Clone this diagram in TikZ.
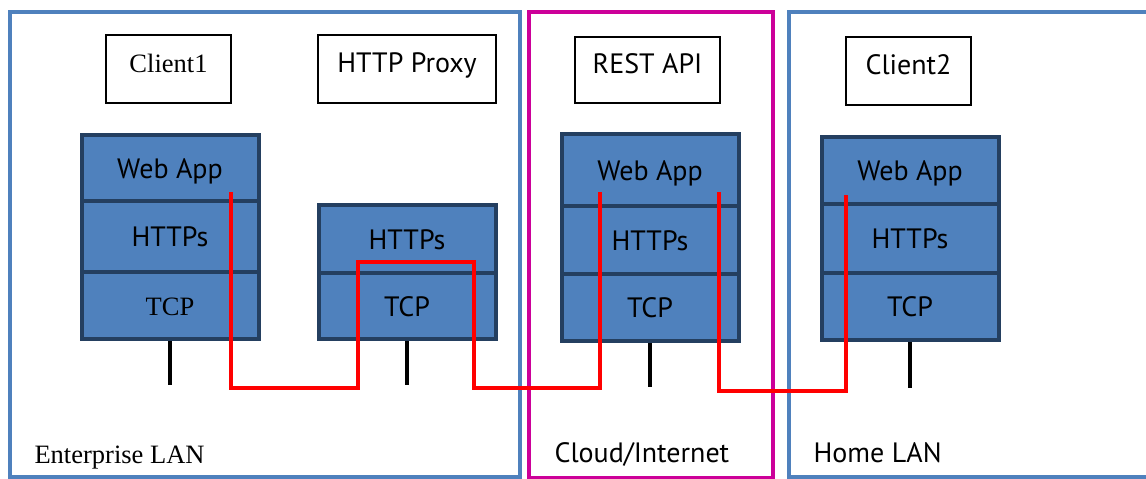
\documentclass[tikz,border=0pt]{standalone}
\usepackage{fontspec}
\setmainfont{Liberation Serif}
\setsansfont{PT Sans}
\definecolor{zoneblue}{HTML}{4F81BD}
\definecolor{zonepink}{HTML}{CC0099}
\definecolor{layerfill}{HTML}{4F81BD}
\definecolor{layeredge}{HTML}{243F60}
\tikzset{
  big/.style={font=\fontsize{26.5}{30}\selectfont},
  sans/.style={font=\fontsize{28}{32}\selectfont\sffamily},
  zone/.style={draw=zoneblue, line width=4pt},
  cloudzone/.style={draw=zonepink, line width=4pt},
  appbox/.style={draw, line width=1.2pt, fill=white, inner sep=0pt,
    text height=20pt, text depth=14pt},
  layer/.style={draw=layeredge, fill=layerfill, line width=4pt, inner sep=0pt,
    minimum width=177pt, text height=20pt, text depth=0pt},
  link/.style={draw=red, line width=4.5pt},
  stub/.style={line width=4pt}
}
\begin{document}
\begin{tikzpicture}[x = 1pt, y = -1pt]
	\clip (0, 0) rectangle (1146, 479);
	\fill[white] (0, 0) rectangle (1146, 479);

	% Zones
	\draw[zone] (10, 12) rectangle (520, 477);
	\draw[cloudzone] (529, 12) rectangle (773, 478);
	\draw[zone] (789, 12) rectangle (1170, 477);
	\node[big, anchor = base west] (entlan) at (31, 463) {Enterprise LAN};
	\node[sans, anchor = base west] (cloudlbl) at (551, 462) {Cloud/Internet};
	\node[sans, anchor = base west] (homelan) at (810, 462) {Home LAN};

	% Applications
	\node[appbox, big, minimum width = 125pt, minimum height = 68pt] (client1) at (168.5, 69) {Client1};
	\node[appbox, sans, minimum width = 178pt, minimum height = 68pt] (proxy) at (407, 69) {HTTP Proxy};
	\node[appbox, sans, minimum width = 145pt, minimum height = 66pt] (rest) at (647.5, 70) {REST API};
	\node[appbox, sans, minimum width = 125pt, minimum height = 68pt] (client2) at (908.5, 71) {Client2};

	% Stacks
	\node[layer, sans, minimum height = 66pt] (web1) at (170, 168) {Web App};
	\node[layer, sans, minimum height = 71pt] (https1) at (170, 236.5) {HTTPs};
	\node[layer, big, minimum height = 67pt] (tcp1) at (170, 305.5) {TCP};

	\node[layer, sans, minimum height = 68pt] (https2) at (407, 239) {HTTPs};
	\node[layer, sans, minimum height = 66pt] (tcp2) at (407, 306) {TCP};

	\node[layer, sans, minimum height = 72pt] (web3) at (650, 170) {Web App};
	\node[layer, sans, minimum height = 68pt] (https3) at (650, 240) {HTTPs};
	\node[layer, sans, minimum height = 67pt] (tcp3) at (650, 307.5) {TCP};

	\node[layer, sans, minimum height = 67pt] (web4) at (910, 170.5) {Web App};
	\node[layer, sans, minimum height = 69pt] (https4) at (910, 238.5) {HTTPs};
	\node[layer, sans, minimum height = 67pt] (tcp4) at (910, 306.5) {TCP};

	% Wires
	\draw[stub] (tcp1.south) -- ++(0, 44);
	\draw[stub] (tcp2.south) -- ++(0, 44);
	\draw[stub] (tcp3.south) -- ++(0, 44);
	\draw[stub] (tcp4.south) -- ++(0, 46);

	% Path of the request
	\coordinate (w1) at (231, 192);
	\coordinate (p1) at (358, 262);
	\coordinate (p2) at (474, 262);
	\coordinate (w3) at (600, 192);
	\coordinate (w3r) at (719, 192);
	\coordinate (w4) at (846, 195);
	\coordinate (busA) at (0, 388);
	\coordinate (busB) at (0, 391);
	\draw[link] (w1) -- (w1 |- busA) -| (p1) -- (p2) |- (w3 |- busA) -- (w3);
	\draw[link] (w3r) -- (w3r |- busB) -| (w4);
\end{tikzpicture}
\end{document}
